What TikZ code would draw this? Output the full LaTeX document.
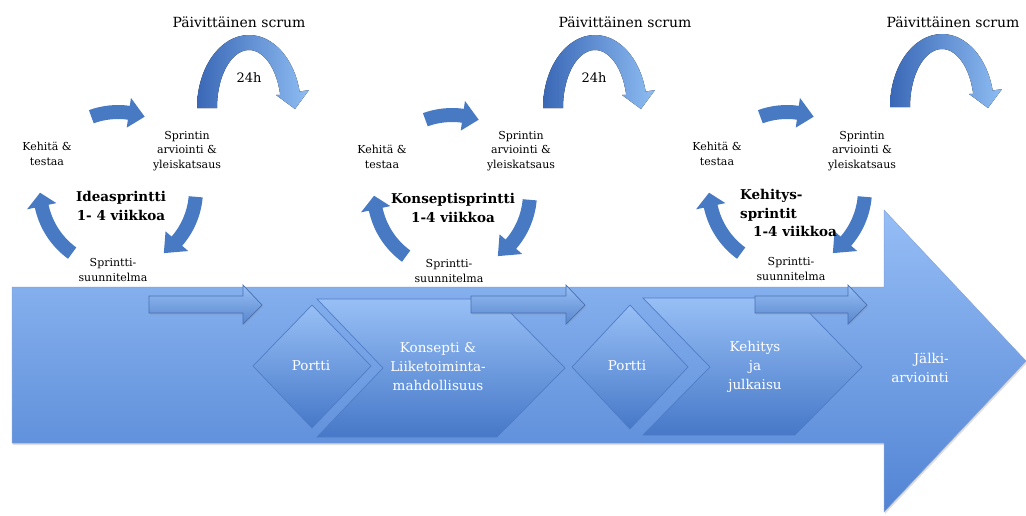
\documentclass[tikz,border=0pt]{standalone}
\usepackage{fontspec}
\setmainfont{DejaVu Serif}
\usetikzlibrary{shadows}

\definecolor{bodytop}{RGB}{150,190,246}
\definecolor{bodybot}{RGB}{82,132,212}
\definecolor{edgeblue}{RGB}{80,124,198}
\definecolor{chevtop}{RGB}{152,192,246}
\definecolor{chevbot}{RGB}{70,120,200}
\definecolor{cycblue}{RGB}{72,122,196}
\definecolor{arcdark}{RGB}{58,104,182}
\definecolor{arclight}{RGB}{142,188,242}

\tikzset{
  lbl/.style={font=\fontsize{11}{14.5}\selectfont, align=center, inner sep=0pt},
  sprinttitle/.style={font=\bfseries\fontsize{13.5}{18.5}\selectfont, inner sep=0pt},
  scrumtitle/.style={font=\fontsize{14}{16}\selectfont, inner sep=0pt},
  hours/.style={font=\fontsize{13}{15}\selectfont, inner sep=0pt},
  wtxt/.style={font=\fontsize{13.5}{19}\selectfont, text=white, align=center, inner sep=0pt},
  phase/.style={draw=edgeblue, line width=0.7pt, top color=chevtop, bottom color=chevbot},
  smallarr/.style={draw=edgeblue!90!black, line width=0.7pt, top color=chevtop, bottom color=chevbot!90,
    drop shadow={shadow xshift=1pt, shadow yshift=-1.5pt, opacity=0.2}},
  cycfill/.style={fill=cycblue},
  arcfill/.style={left color=arcdark, right color=arclight},
}

% block arrow lying on the timeline: left end, tip
\newcommand\flatarrow[2]{%
  \path[smallarr] (#1,296) -- (#2-19,296) -- (#2-19,285) -- (#2,305)
    -- (#2-19,324) -- (#2-19,313) -- (#1,313) -- cycle;}

% curved block arrow on the sprint circle: centre x, centre y, start, head base, tip angle
\newcommand\cycarrow[5]{%
  \begin{scope}[shift={(#1,#2)}]
    \fill[cycfill] (#3:85) arc[start angle=#3, end angle=#4, radius=85]
      -- (#4:93) -- (#5:78) -- (#4:63) -- (#4:71)
      arc[start angle=#4, end angle=#3, radius=71] -- cycle;
  \end{scope}}

% the daily scrum loop: left foot x, foot y
\newcommand\scrumloop[2]{%
  \begin{scope}[shift={(#1+52,#2)}]
    \fill[arcfill] (180:52 and 73) arc[start angle=180, end angle=347, x radius=52, y radius=73]
      -- (60,-18) -- (46,1) -- (27,-13) -- (347:32 and 58)
      arc[start angle=347, end angle=180, x radius=32, y radius=58] -- cycle;
  \end{scope}}

\begin{document}
\begin{tikzpicture}[x=1pt, y=-1pt]
\useasboundingbox (0,0) rectangle (1026,515);
\fill[white] (0,0) rectangle (1026,515);

% main timeline arrow
\path[draw=edgeblue!70, line width=0.5pt, top color=bodytop, bottom color=bodybot,
      drop shadow={shadow xshift=1pt, shadow yshift=-2pt, opacity=0.25}]
  (12,287) -- (884,287) -- (884,210) -- (1026,361) -- (884,512)
  -- (884,443) -- (12,443) -- cycle;

% phases
\path[phase] (317,299) -- (497,299) -- (565,368) -- (497,437) -- (317,437) -- (383,368) -- cycle;
\path[phase] (643,298) -- (795,298) -- (862,367) -- (795,435) -- (643,435) -- (710,367) -- cycle;
\path[phase] (312,305) -- (371,366) -- (312,428) -- (253,366) -- cycle;
\path[phase] (630,305) -- (688,367) -- (630,429) -- (572,367) -- cycle;

\flatarrow{149}{262}
\flatarrow{471}{585}
\flatarrow{755}{867}

\node[wtxt] (portti1) at (311,366) {Portti};
\node[wtxt] (konsepti) at (438,367) {Konsepti \&\\Liiketoiminta-\\mahdollisuus};
\node[wtxt] (portti2) at (627,366) {Portti};
\node[wtxt] (kehitys) at (755,367) {Kehitys\\ja\\julkaisu};
\node[wtxt, align=right] (jalki) at (920,368) {Jälki-\\arviointi};

% daily scrum loops
\scrumloop{197}{108}
\scrumloop{543}{108}
\scrumloop{890}{107}
\node[scrumtitle] (scrum1) at (239,22) {Päivittäinen scrum};
\node[scrumtitle] (scrum2) at (625,22) {Päivittäinen scrum};
\node[scrumtitle] (scrum3) at (953,22) {Päivittäinen scrum};
\node[hours] (h1) at (249,78) {24h};
\node[hours] (h2) at (594,78) {24h};

% sprint cycles
\cycarrow{118}{190}{250}{278}{290}
\cycarrow{118}{190}{5}{41}{54}
\cycarrow{118}{190}{126}{168}{178}

\cycarrow{452}{193}{250}{278}{290}
\cycarrow{452}{193}{5}{41}{54}
\cycarrow{452}{193}{126}{168}{178}

\cycarrow{787}{190}{250}{278}{290}
\cycarrow{787}{190}{5}{41}{54}
\cycarrow{787}{190}{126}{168}{178}

\node[lbl] (kehita1) at (47,154) {Kehitä \&\\testaa};
\node[lbl] (arvio1) at (187,151) {Sprintin\\arviointi \&\\yleiskatsaus};
\node[lbl] (suunn1) at (113,270) {Sprintti-\\suunnitelma};
\node[sprinttitle, align=center] (idea) at (121,206) {Ideasprintti\\1- 4 viikkoa};

\node[lbl] (kehita2) at (382,157) {Kehitä \&\\testaa};
\node[lbl] (arvio2) at (521,151) {Sprintin\\arviointi \&\\yleiskatsaus};
\node[lbl] (suunn2) at (449,271) {Sprintti-\\suunnitelma};
\node[sprinttitle, align=center] (konseptisprint) at (453,208) {Konseptisprintti\\1-4 viikkoa};

\node[lbl] (kehita3) at (717,154) {Kehitä \&\\testaa};
\node[lbl] (arvio3) at (862,151) {Sprintin\\arviointi \&\\yleiskatsaus};
\node[lbl] (suunn3) at (791,269) {Sprintti-\\suunnitelma};
\node[sprinttitle, align=left, anchor=west] (kehityssprint) at (740,213)
  {Kehitys-\\sprintit\\\hspace*{13pt}1-4 viikkoa};
\end{tikzpicture}
\end{document}
